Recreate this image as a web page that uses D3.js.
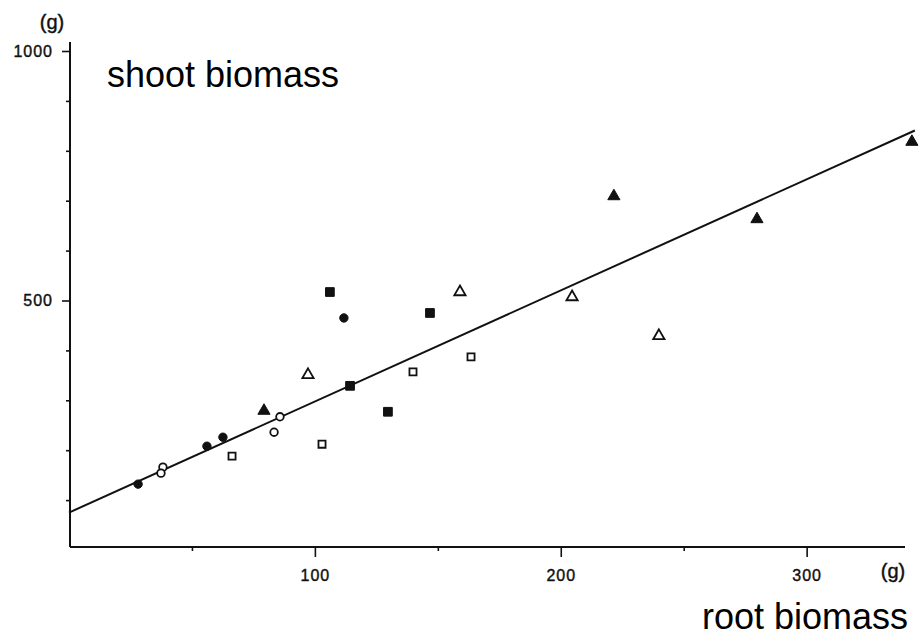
<!DOCTYPE html>
<html>
<head>
<meta charset="utf-8">
<script src="https://cdn.jsdelivr.net/npm/d3@7"></script>
<style>
  body { margin: 0; background: white; }
  .hand { font-family: "Liberation Sans", Arial, sans-serif; fill: #111; stroke: #111; stroke-width: 0.4px; }
  .bigLabel { font-family: "Liberation Sans", Arial, sans-serif; font-size: 36px; fill: #000; }
</style>
</head>
<body>
<svg id="chart"></svg>
<script>
// root biomass (g) / shoot biomass (g), one list per marker type
const filledCircle = [[28.1, 132], [56.1, 208], [62.6, 226], [111.8, 465]];
const openCircle = [[38.2, 166], [37.4, 154], [85.8, 267], [83.4, 236]];
const filledSquare = [[114.3, 329], [106.1, 517], [146.8, 475], [129.7, 277]];
const openSquare = [[66.3, 188], [102.9, 212], [139.9, 357], [163.5, 387]];
const filledTriangle = [[79.3, 279], [221.6, 709], [279.8, 663], [342.8, 818]];
const openTriangle = [[97.2, 351], [159.0, 517], [204.6, 507], [239.9, 429]];

// regression line y = intercept + slope * x
const intercept = 75;
const slope = 2.226;
const lineExtent = [0, 344];

const xTicks = [50, 100, 150, 200, 250, 300];
const xLabels = [100, 200, 300];
const yTicks = [100, 200, 300, 400, 500, 600, 700, 800, 900, 1000];
const yLabels = [500, 1000];

const width = 924;
const height = 643;

const svg = d3.select("#chart").attr("width", width).attr("height", height);

const x = d3.scaleLinear().domain([0, 340]).range([69, 905]);
const y = d3.scaleLinear().domain([0, 1000]).range([550, 51]);
const axisX = 70;
const axisY = 547;

// y axis
const yAxis = svg
  .append("g")
  .attr("class", "yAxis")
  .attr("transform", `translate(${axisX},0)`)
  .call(
    d3
      .axisLeft(y)
      .tickValues(yTicks)
      .tickSize(4)
      .tickPadding(13)
      .tickFormat((d) => (yLabels.includes(d) ? d : ""))
  );
yAxis.select(".domain").remove();
yAxis
  .selectAll(".tick line")
  .attr("x2", (d) => (yLabels.includes(d) ? -8 : -4))
  .attr("stroke", "#111")
  .attr("stroke-width", 1.6);
yAxis
  .selectAll(".tick text")
  .attr("class", "hand")
  .attr("font-size", 16)
  .attr("letter-spacing", 1);
yAxis
  .append("line")
  .attr("x1", 0)
  .attr("x2", 0)
  .attr("y1", 42)
  .attr("y2", axisY)
  .attr("stroke", "#111")
  .attr("stroke-width", 2);

// x axis
const xAxis = svg
  .append("g")
  .attr("class", "xAxis")
  .attr("transform", `translate(0,${axisY})`)
  .call(
    d3
      .axisBottom(x)
      .tickValues(xTicks)
      .tickSize(4)
      .tickPadding(19)
      .tickFormat((d) => (xLabels.includes(d) ? d : ""))
  );
xAxis.select(".domain").remove();
xAxis
  .selectAll(".tick line")
  .attr("y2", (d) => (xLabels.includes(d) ? 10 : 4))
  .attr("stroke", "#111")
  .attr("stroke-width", 1.6);
xAxis
  .selectAll(".tick text")
  .attr("class", "hand")
  .attr("font-size", 16)
  .attr("letter-spacing", 1);
xAxis
  .append("line")
  .attr("x1", axisX)
  .attr("x2", 905)
  .attr("y1", 0)
  .attr("y2", 0)
  .attr("stroke", "#111")
  .attr("stroke-width", 2);

// unit labels
svg
  .append("text")
  .attr("class", "hand")
  .attr("x", 52)
  .attr("y", 29)
  .attr("text-anchor", "middle")
  .attr("font-size", 20)
  .text("(g)");
svg
  .append("text")
  .attr("class", "hand")
  .attr("x", 893)
  .attr("y", 578)
  .attr("text-anchor", "middle")
  .attr("font-size", 20)
  .text("(g)");

// regression line
svg
  .append("path")
  .attr("fill", "none")
  .attr("stroke", "#111")
  .attr("stroke-width", 2)
  .attr(
    "d",
    d3
      .line()
      .x((d) => x(d))
      .y((d) => y(intercept + slope * d))(lineExtent)
  );

// points
const series = [
  { data: filledCircle, type: d3.symbolCircle, size: 55, filled: true },
  { data: openCircle, type: d3.symbolCircle, size: 45, filled: false },
  { data: filledSquare, type: d3.symbolSquare, size: 76, filled: true },
  { data: openSquare, type: d3.symbolSquare, size: 50, filled: false },
  { data: filledTriangle, type: d3.symbolTriangle, size: 64, filled: true },
  { data: openTriangle, type: d3.symbolTriangle, size: 55, filled: false },
];

series.forEach((s, i) => {
  const symbol = d3.symbol().type(s.type).size(s.size);
  svg
    .selectAll(`.points${i}`)
    .data(s.data)
    .join("path")
    .attr("class", `points${i}`)
    .attr("transform", (d) => `translate(${x(d[0])},${y(d[1])})`)
    .attr("d", symbol)
    .attr("fill", s.filled ? "#111" : "white")
    .attr("stroke", "#111")
    .attr("stroke-width", s.filled ? 1 : 1.8);
});

// axis titles
svg.append("text").attr("class", "bigLabel").attr("x", 107).attr("y", 87).text("shoot biomass");
svg
  .append("text")
  .attr("class", "bigLabel")
  .attr("x", 908)
  .attr("y", 629)
  .attr("text-anchor", "end")
  .text("root biomass");
</script>
</body>
</html>
